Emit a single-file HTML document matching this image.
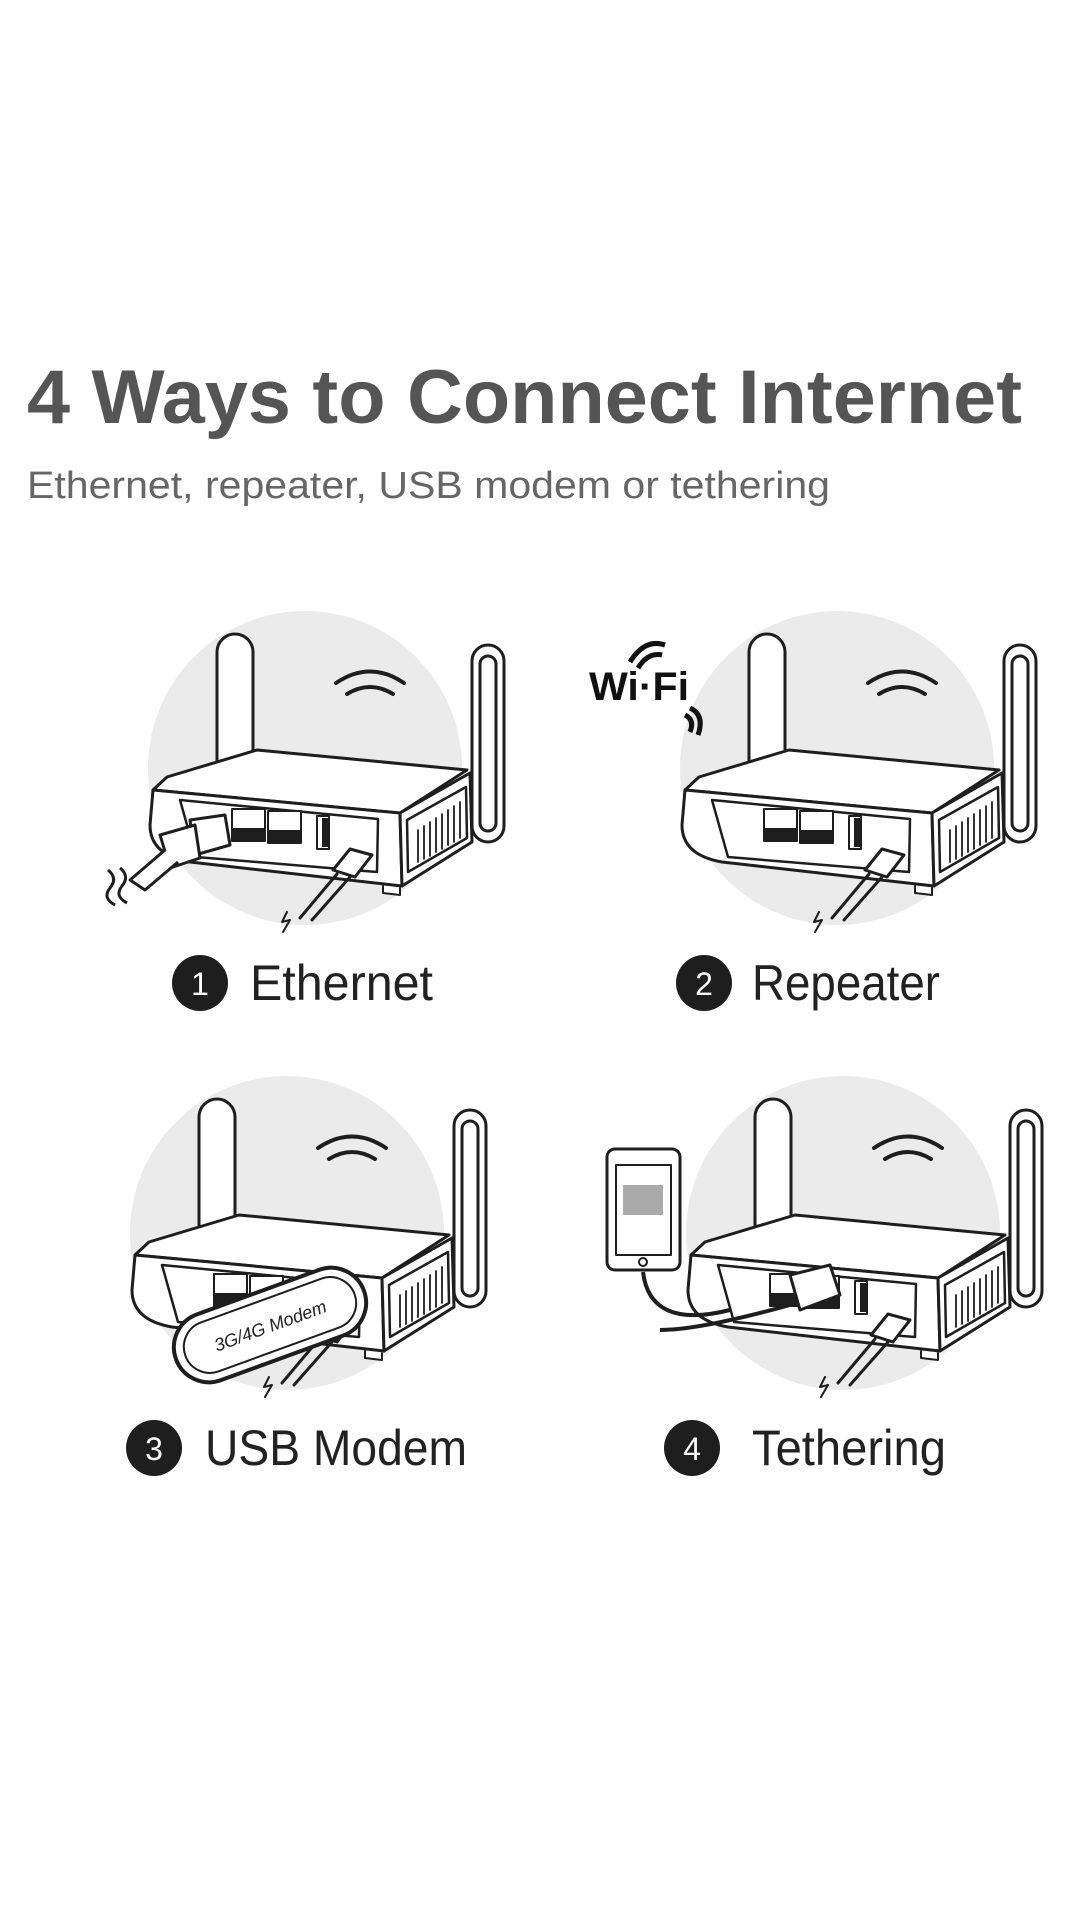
<!DOCTYPE html>
<html><head><meta charset="utf-8"><style>
html,body{margin:0;padding:0;background:#fff}
svg{display:block}
</style></head><body>
<svg width="1080" height="1920" viewBox="0 0 1080 1920" xmlns="http://www.w3.org/2000/svg">
<defs>
<g id="router" stroke="#1e1e1e" stroke-width="3" stroke-linejoin="round" stroke-linecap="round">
  <circle cx="305" cy="768" r="157" fill="#ebebeb" stroke="none"/>
  <path d="M217,760 V652 A18,18 0 0 1 253,652 V755" fill="#fff"/>
  <rect x="472" y="645" width="32" height="197" rx="16" fill="#fff"/>
  <rect x="480" y="656" width="16" height="175" rx="8" fill="#fff"/>
  <path d="M167,777 L257,750 L467,770 L400,813 L153,790 Z" fill="#fff"/>
  <path d="M153,790 L400,813 L402,886 L190,862 Q150,855 150,825 Z" fill="#fff"/>
  <path d="M400,813 L470,773 L472,842 L402,886 Z" fill="#fff"/>
  <path d="M407,820 L466,787 L467,838 L408,872 Z" fill="#fff" stroke-width="2.5"/>
  <g stroke-width="1.8">
    <line x1="418" y1="830" x2="418" y2="862"/><line x1="424" y1="826" x2="424" y2="859"/>
    <line x1="430" y1="822" x2="430" y2="856"/><line x1="436" y1="818" x2="436" y2="852"/>
    <line x1="442" y1="814" x2="442" y2="849"/><line x1="448" y1="810" x2="448" y2="845"/>
    <line x1="454" y1="806" x2="454" y2="842"/><line x1="460" y1="802" x2="460" y2="838"/>
  </g>
  <path d="M180,800 L378,819 L377,872 L196,857 Z" fill="#fff" stroke-width="2.5"/>
  <rect x="232" y="809" width="33" height="32" fill="#fff" stroke-width="2"/>
  <rect x="268" y="811" width="33" height="32" fill="#fff" stroke-width="2"/>
  <path d="M233,828 L264,828 L264,840 L233,840 Z M269,830 L300,830 L300,842 L269,842 Z" fill="#1e1e1e" stroke="none"/>
  <rect x="317" y="816" width="12" height="33" fill="#fff" stroke-width="2"/>
  <rect x="322" y="818" width="6" height="29" fill="#1e1e1e" stroke="none"/>
  <path d="M383,886 L383,893 L400,895 L400,888" fill="#fff" stroke-width="2"/>
  <path d="M350,849 L372,855 L355,877 L333,870 Z" fill="#fff"/>
  <line x1="337" y1="874" x2="300" y2="918"/>
  <line x1="350" y1="877" x2="312" y2="920"/>
  <path d="M287,912 L282,922 L290,920 L283,932" fill="none" stroke-width="2"/>
  <g fill="none" stroke-width="4">
    <path d="M336,683 Q370,660 404,683"/>
    <path d="M347,694 Q370,680 393,694"/>
  </g>
</g>
</defs>

<text x="27" y="423" font-family="Liberation Sans, sans-serif" font-weight="bold" font-size="76" fill="#555" textLength="995" lengthAdjust="spacingAndGlyphs">4 Ways to Connect Internet</text>
<text x="27" y="498" font-family="Liberation Sans, sans-serif" font-size="38" fill="#666" textLength="803" lengthAdjust="spacingAndGlyphs">Ethernet, repeater, USB modem or tethering</text>

<!-- Router 1 -->
<use href="#router"/>
<g stroke="#1e1e1e" stroke-width="3" fill="#fff" stroke-linejoin="round">
  <path d="M190,820 L225,815 L230,845 L195,855 Z"/>
  <path d="M160,835 L195,825 L200,858 L170,868 Z"/>
  <path d="M165,850 L130,880 L145,890 L178,862"/>
  <path d="M108,870 Q118,878 110,888 Q102,898 115,905" fill="none"/>
  <path d="M120,868 Q130,876 122,886 Q114,896 127,903" fill="none"/>
</g>
<circle cx="200" cy="983" r="28" fill="#1e1e1e"/>
<text x="200" y="995" text-anchor="middle" font-family="Liberation Sans, sans-serif" font-size="32" fill="#fff">1</text>
<text x="250" y="1000" font-family="Liberation Sans, sans-serif" font-size="50" fill="#222" textLength="183" lengthAdjust="spacingAndGlyphs">Ethernet</text>

<!-- Router 2 -->
<use href="#router" transform="translate(532,0)"/>
<text x="589" y="700" font-family="Liberation Sans, sans-serif" font-weight="bold" font-size="40" fill="#111" textLength="100" lengthAdjust="spacingAndGlyphs">Wi·Fi</text>
<g fill="none" stroke="#111" stroke-width="5">
  <path d="M630,662 Q645,638 665,645"/><path d="M638,668 Q648,652 662,655"/>
  <path d="M690,708 Q705,715 698,735"/><path d="M685,715 Q695,720 690,732"/>
</g>
<circle cx="704" cy="983" r="28" fill="#1e1e1e"/>
<text x="704" y="995" text-anchor="middle" font-family="Liberation Sans, sans-serif" font-size="32" fill="#fff">2</text>
<text x="752" y="1000" font-family="Liberation Sans, sans-serif" font-size="50" fill="#222" textLength="188" lengthAdjust="spacingAndGlyphs">Repeater</text>

<!-- Router 3 -->
<use href="#router" transform="translate(-18,465)"/>
<g transform="translate(270,1325) rotate(-20)">
  <rect x="-100" y="-35" width="200" height="70" rx="35" fill="#fff" stroke="#1e1e1e" stroke-width="4"/>
  <rect x="-90" y="-26" width="180" height="52" rx="26" fill="none" stroke="#1e1e1e" stroke-width="2"/>
  <text x="0" y="7" text-anchor="middle" font-family="Liberation Sans, sans-serif" font-size="18" font-style="italic" fill="#222">3G/4G Modem</text>
</g>
<circle cx="154" cy="1448" r="28" fill="#1e1e1e"/>
<text x="154" y="1460" text-anchor="middle" font-family="Liberation Sans, sans-serif" font-size="32" fill="#fff">3</text>
<text x="205" y="1465" font-family="Liberation Sans, sans-serif" font-size="50" fill="#222" textLength="262" lengthAdjust="spacingAndGlyphs">USB Modem</text>

<!-- Router 4 -->
<use href="#router" transform="translate(538,465)"/>
<g stroke="#1e1e1e" stroke-width="3" fill="#fff" stroke-linejoin="round">
  <rect x="607" y="1149" width="73" height="121" rx="8"/>
  <rect x="616" y="1165" width="55" height="90" fill="#fff" stroke-width="2"/>
  <rect x="623" y="1185" width="40" height="30" fill="#aaa" stroke="none"/>
  <circle cx="643" cy="1262" r="4" stroke-width="2"/>
  <path d="M643,1272 Q650,1330 730,1310" fill="none" stroke-width="4"/>
  <path d="M660,1330 Q700,1330 790,1305" fill="none" stroke-width="4"/>
  <path d="M790,1275 L830,1265 L840,1295 L800,1310 Z"/>
</g>
<circle cx="692" cy="1448" r="28" fill="#1e1e1e"/>
<text x="692" y="1460" text-anchor="middle" font-family="Liberation Sans, sans-serif" font-size="32" fill="#fff">4</text>
<text x="752" y="1465" font-family="Liberation Sans, sans-serif" font-size="50" fill="#222" textLength="194" lengthAdjust="spacingAndGlyphs">Tethering</text>
</svg>
</body></html>
